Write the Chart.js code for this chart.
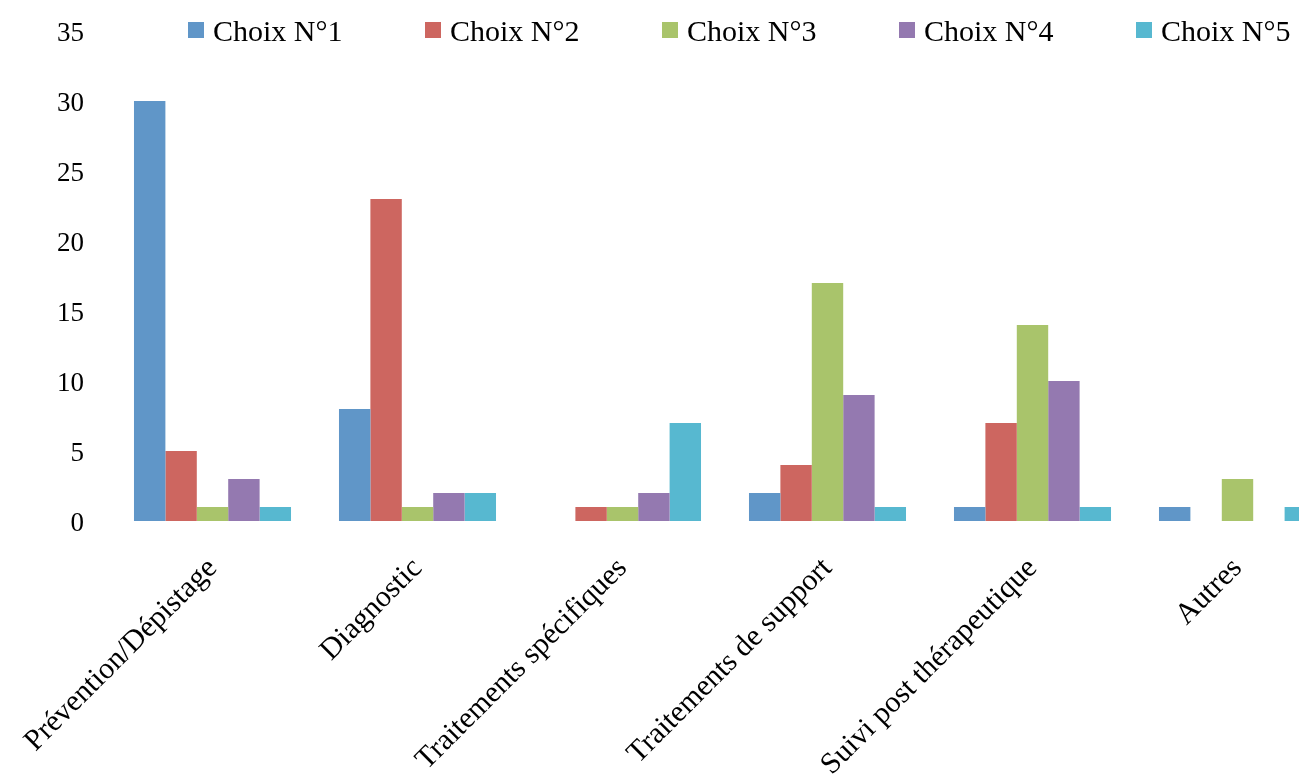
<!DOCTYPE html>
<html lang="fr">
<head>
<meta charset="utf-8">
<title>Choix par catégorie</title>
<script src="https://cdn.jsdelivr.net/npm/chart.js@4.4.1/dist/chart.umd.min.js"></script>
<style>
    html, body {
        margin: 0;
        padding: 0;
        background: #ffffff;
        overflow: hidden;
    }
</style>
</head>
<body>
<canvas id="chart" width="1360" height="783"></canvas>
<script>
// Data
const categories = [
    'Prévention/Dépistage',
    'Diagnostic',
    'Traitements spécifiques',
    'Traitements de support',
    'Suivi post thérapeutique',
    'Autres',
];

const seriesLabels = ['Choix N°1', 'Choix N°2', 'Choix N°3', 'Choix N°4', 'Choix N°5'];

const choix1 = [30, 8, 0, 2, 1, 1];
const choix2 = [5, 23, 1, 4, 7, 0];
const choix3 = [1, 1, 1, 17, 14, 3];
const choix4 = [3, 2, 2, 9, 10, 0];
const choix5 = [1, 2, 7, 1, 1, 1];

const yTicks = [0, 5, 10, 15, 20, 25, 30, 35];

const seriesValues = [choix1, choix2, choix3, choix4, choix5];
const colors = ['#6096C8', '#CD6660', '#A9C46B', '#9479B0', '#57B8D0'];

const FONT = "'Liberation Serif', 'Times New Roman', serif";

// Legend drawn on top of the plot area, like the original
const legendPlugin = {
    id: 'topLegend',
    afterDraw(chart) {
        const ctx = chart.ctx;
        const startX = 188;
        const step = 237;
        const boxSize = 16;
        const boxTop = 22;
        ctx.save();
        ctx.font = '30px ' + FONT;
        ctx.textBaseline = 'middle';
        ctx.textAlign = 'left';
        chart.data.datasets.forEach((ds, i) => {
            const x = startX + i * step;
            ctx.fillStyle = ds.backgroundColor;
            ctx.fillRect(x, boxTop, boxSize, boxSize);
            ctx.fillStyle = '#000000';
            ctx.fillText(ds.label, x + boxSize + 9, boxTop + boxSize / 2 + 3);
        });
        ctx.restore();
    },
};

const ctx = document.getElementById('chart').getContext('2d');

new Chart(ctx, {
    type: 'bar',
    data: {
        labels: categories,
        datasets: seriesLabels.map((label, i) => ({
            label: label,
            data: seriesValues[i],
            backgroundColor: colors[i],
            borderWidth: 0,
            barPercentage: 1.0,
            categoryPercentage: 0.766,
        })),
    },
    options: {
        responsive: false,
        devicePixelRatio: 1,
        animation: false,
        layout: {
            padding: { left: 31, right: 20, top: 31, bottom: 0 },
        },
        plugins: {
            legend: { display: false },
            tooltip: { enabled: false },
        },
        scales: {
            x: {
                grid: { display: false, drawTicks: false },
                border: { display: false },
                ticks: {
                    autoSkip: false,
                    minRotation: 45,
                    maxRotation: 45,
                    padding: 30,
                    color: '#000000',
                    font: { family: FONT, size: 30 },
                },
                afterFit(scale) {
                    // rotated labels may overflow to the left, as in the original
                    scale.height = 262;
                    scale.paddingLeft = 0;
                    scale.paddingRight = 0;
                },
            },
            y: {
                min: 0,
                max: 35,
                grid: { display: false, drawTicks: false },
                border: { display: false },
                afterBuildTicks(scale) {
                    scale.ticks = yTicks.map((v) => ({ value: v }));
                },
                afterFit(scale) {
                    scale.paddingTop = 0;
                    scale.paddingBottom = 0;
                },
                ticks: {
                    padding: 26,
                    labelOffset: 3,
                    color: '#000000',
                    font: { family: FONT, size: 27 },
                },
            },
        },
    },
    plugins: [legendPlugin],
});
</script>
</body>
</html>
